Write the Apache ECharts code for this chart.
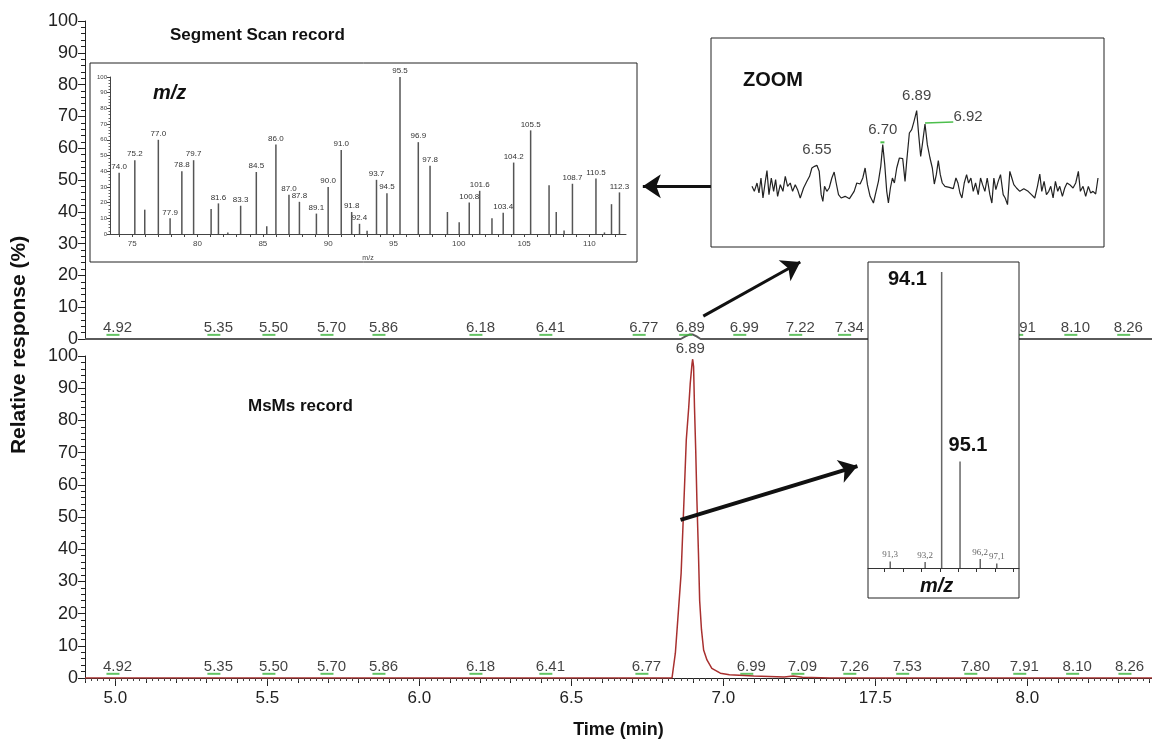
<!DOCTYPE html>
<html>
<head>
<meta charset="utf-8">
<script src="https://cdn.jsdelivr.net/npm/echarts@6/dist/echarts.min.js"></script>
<style>
html,body{margin:0;padding:0;background:#fff}
#main{width:1152px;height:744px}
</style>
</head>
<body>
<div id="main"></div>
<script>
// ---- data ----
// main time axis
var xTickValues = [5.0, 5.5, 6.0, 6.5, 7.0, 7.5, 8.0];
var xTickLabels = ['5.0', '5.5', '6.0', '6.5', '7.0', '17.5', '8.0'];

// segment scan trace (top panel), almost flat
var topTime = [4.9, 6.86, 6.875, 6.888, 6.9, 6.912, 6.925, 8.41];
var topResp = [0, 0, 0.8, 1.4, 1.4, 0.8, 0, 0];
var topPeakText = ['4.92', '5.35', '5.50', '5.70', '5.86', '6.18', '6.41', '6.77', '6.89', '6.99', '7.22', '7.34', '7.91', '8.10', '8.26'];
var topPeakAt = [5.007, 5.339, 5.52, 5.711, 5.882, 6.201, 6.431, 6.738, 6.891, 7.069, 7.253, 7.414, 7.98, 8.158, 8.332];

// MsMs trace (bottom panel)
var msTime = [4.9, 6.8, 6.831, 6.842, 6.853, 6.861, 6.867, 6.873, 6.878, 6.886, 6.891, 6.897, 6.899, 6.902, 6.905, 6.909, 6.913, 6.918, 6.922, 6.928, 6.935, 6.946, 6.962, 6.99, 7.02, 7.1, 7.2, 7.23, 7.26, 7.35, 8.41];
var msResp = [0, 0, 0, 7.7, 22, 32.5, 47, 61.5, 74, 84, 91.5, 97.7, 99, 96.7, 84, 70.8, 55, 38.8, 24, 15, 8.7, 5.6, 3, 1.5, 1, 0.6, 0.3, 0.6, 0.2, 0, 0];
var botPeakText = ['4.92', '5.35', '5.50', '5.70', '5.86', '6.18', '6.41', '6.77', '6.99', '7.09', '7.26', '7.53', '7.80', '7.91', '8.10', '8.26'];
var botPeakAt = [5.007, 5.339, 5.52, 5.711, 5.882, 6.201, 6.431, 6.747, 7.092, 7.26, 7.431, 7.605, 7.829, 7.99, 8.164, 8.336];
var apexTime = 6.891, apexResp = 99, apexText = '6.89';

// segment scan mass spectrum (inset)
var scanMz = [74.0, 75.2, 75.96, 77.0, 77.9, 78.8, 79.7, 81.04, 81.6, 82.32, 83.3, 84.5, 85.3, 86.0, 87.0, 87.8, 89.1, 90.0, 91.0, 91.8, 92.4, 92.98, 93.7, 94.5, 95.5, 96.9, 97.8, 99.13, 100.03, 100.8, 101.6, 102.54, 103.4, 104.2, 105.5, 106.91, 107.46, 108.06, 108.7, 110.5, 111.15, 111.69, 112.3];
var scanInt = [39, 47, 15.5, 60, 10, 40, 47, 16, 19.5, 1, 18, 39.5, 5, 57, 25, 20.5, 13, 30, 53.5, 14, 6.5, 2, 34.5, 26, 100, 58.5, 43.5, 14, 7.5, 20, 27.5, 10, 13.5, 45.5, 66, 31, 14, 2.3, 32, 35.3, 1, 19, 26.5];
var scanText = ['74.0', '75.2', '', '77.0', '77.9', '78.8', '79.7', '', '81.6', '', '83.3', '84.5', '', '86.0', '87.0', '87.8', '89.1', '90.0', '91.0', '91.8', '92.4', '', '93.7', '94.5', '95.5', '96.9', '97.8', '', '', '100.8', '101.6', '', '103.4', '104.2', '105.5', '', '', '', '108.7', '110.5', '', '', '112.3'];
var scanTicks = [75, 80, 85, 90, 95, 100, 105, 110];

// zoomed segment scan trace
var zoomScan = [125, 132, 140, 146, 152, 158, 165, 170, 176, 183, 190, 196, 202, 210, 218, 225, 232, 240, 247, 255, 262, 270, 280, 290, 298, 305, 313, 320, 327, 333, 338, 343, 350, 357, 365, 372, 378, 385, 393, 405, 418, 432, 440, 450, 458, 465, 472, 480, 490, 498, 505, 512, 518, 524, 530, 535, 541, 547, 553, 560, 568, 578, 585, 590, 598, 605, 612, 620, 626, 632, 637, 645, 652, 660, 667, 673, 679, 685, 691, 697, 705, 718, 730, 738, 744, 750, 756, 763, 770, 776, 783, 790, 797, 805, 812, 818, 825, 832, 840, 846, 852, 858, 865, 872, 880, 886, 893, 900, 906, 912, 920, 930, 942, 955, 965, 975, 983, 990, 996, 1003, 1010, 1017, 1023, 1030, 1037, 1044, 1050, 1058, 1065, 1072, 1080, 1090, 1098, 1106, 1112, 1120, 1128, 1136, 1143, 1150, 1158, 1165];
var zoomSignal = [65, 50, 75, 45, 90, 30, 80, 112, 40, 90, 50, 85, 35, 70, 50, 95, 65, 75, 50, 70, 55, 30, 60, 80, 95, 120, 125, 128, 110, 40, 20, 65, 50, 60, 90, 108, 75, 40, 30, 35, 28, 50, 75, 72, 90, 120, 70, 35, 15, 50, 80, 125, 190, 130, 50, 15, 60, 90, 75, 120, 150, 148, 80, 140, 225, 235, 260, 292, 220, 155, 190, 252, 190, 150, 120, 72, 100, 142, 100, 75, 65, 62, 58, 90, 75, 45, 30, 75, 100, 75, 90, 50, 75, 40, 90, 70, 50, 90, 40, 15, 90, 55, 80, 100, 40, 30, 10, 110, 90, 70, 60, 50, 58, 50, 40, 30, 65, 102, 50, 80, 40, 50, 65, 30, 80, 50, 65, 35, 60, 75, 70, 60, 75, 110, 50, 65, 35, 65, 45, 50, 42, 90];
var zoomPeakScan = [320, 518, 620, 645];
var zoomPeakSignal = [128, 190, 292, 252];
var zoomPeakText = ['6.55', '6.70', '6.89', '6.92'];

// MsMs product ion spectrum (inset)
var msmsMz = [91.3, 93.2, 94.1, 95.1, 96.2, 97.1];
var msmsInt = [2.2, 2.0, 100, 36, 3, 1.5];
var msmsText = ['91,3', '93,2', '94.1', '95.1', '96,2', '97,1'];
var msmsTicks = [90, 91, 92, 93, 94, 95, 96, 97, 98];

// ---- chart ----
var FONT = '"Liberation Sans", Arial, sans-serif';
var myChart = echarts.init(document.getElementById('main'));

function zip(a, b) {
    return a.map(function (v, i) { return [v, b[i]]; });
}
var midTicks = [], smallTicks = [];
for (var i = 0; i <= 35; i++) midTicks.push(+(4.9 + i * 0.1).toFixed(2));
for (var j = 0; j <= 175; j++) smallTicks.push(+(4.9 + j * 0.02).toFixed(2));

var respAxis = {
    type: 'value', min: 0, max: 100, interval: 10,
    axisLine: {show: true, lineStyle: {color: '#222', width: 1}},
    axisTick: {show: true, length: 7, lineStyle: {color: '#222'}},
    minorTick: {show: true, splitNumber: 5, length: 4, lineStyle: {color: '#222'}},
    axisLabel: {fontSize: 18, color: '#222', fontFamily: FONT, margin: 7},
    splitLine: {show: false}
};
function peakLabels(xi, yi, times, texts) {
    return {
        type: 'scatter', xAxisIndex: xi, yAxisIndex: yi,
        symbolSize: 1, itemStyle: {color: 'rgba(0,0,0,0)'},
        data: times.map(function (t, k) { return {value: [t, 0], name: texts[k]}; }),
        label: {show: true, position: 'top', distance: 3, formatter: '{b}',
            fontSize: 15, color: '#111', fontFamily: FONT},
        silent: true, z: 3
    };
}
function greenMarks(xi, yi, times) {
    return {
        type: 'scatter', xAxisIndex: xi, yAxisIndex: yi,
        symbol: 'rect', symbolSize: [13, 2], itemStyle: {color: '#3cb43c'},
        data: times.map(function (t) { return [t - 0.015, 1.3]; }),
        silent: true, z: 3
    };
}
var arrowLine = function (width, pairs) {
    return {
        silent: true, symbol: ['none', 'arrow'], symbolSize: 18,
        lineStyle: {color: '#111', width: width, type: 'solid'},
        label: {show: false},
        data: pairs.map(function (p) { return [{coord: p[0]}, {coord: p[1]}]; })
    };
};

var option = {
    animation: false,
    backgroundColor: '#fff',
    title: [
        {text: 'Segment Scan record', left: 170, top: 27, padding: 0,
            textStyle: {fontSize: 17, fontWeight: 'bold', color: '#111', fontFamily: FONT}},
        {text: 'MsMs record', left: 248, top: 398, padding: 0,
            textStyle: {fontSize: 17, fontWeight: 'bold', color: '#111', fontFamily: FONT}}
    ],
    grid: [
        {left: 85, top: 21, width: 1067, height: 318},
        {left: 85, top: 356, width: 1067, height: 322},
        {left: 110, top: 77, width: 516, height: 157},
        {left: 752, top: 108, width: 346, height: 100},
        {left: 868, top: 272, width: 151, height: 296}
    ],
    xAxis: [
        {gridIndex: 0, type: 'value', min: 4.9, max: 8.41, show: false},
        {gridIndex: 1, type: 'value', min: 4.9, max: 8.41, position: 'bottom', offset: 0,
            axisLine: {show: true, lineStyle: {color: '#222', width: 1}},
            axisTick: {show: true, length: 8, customValues: xTickValues, lineStyle: {color: '#222'}},
            axisLabel: {customValues: xTickValues, fontSize: 17, color: '#222', fontFamily: FONT, margin: 12,
                formatter: function (v) {
                    for (var k = 0; k < xTickValues.length; k++) {
                        if (Math.abs(xTickValues[k] - v) < 1e-6) return xTickLabels[k];
                    }
                    return '';
                }},
            splitLine: {show: false},
            name: 'Time (min)', nameLocation: 'middle', nameGap: 43,
            nameTextStyle: {fontSize: 18, fontWeight: 'bold', color: '#111', fontFamily: FONT}},
        {gridIndex: 1, type: 'value', min: 4.9, max: 8.41, position: 'bottom', offset: 0,
            axisLine: {show: false}, axisLabel: {show: false}, splitLine: {show: false},
            axisTick: {show: true, length: 5, customValues: midTicks, lineStyle: {color: '#222'}}},
        {gridIndex: 1, type: 'value', min: 4.9, max: 8.41, position: 'bottom', offset: 0,
            axisLine: {show: false}, axisLabel: {show: false}, splitLine: {show: false},
            axisTick: {show: true, length: 3, customValues: smallTicks, lineStyle: {color: '#444'}}},
        {gridIndex: 2, type: 'value', min: 73.3, max: 112.8, z: 60,
            axisLine: {show: true, lineStyle: {color: '#444', width: 1}},
            axisTick: {show: true, length: 3, customValues: [74, 75, 76, 77, 78, 79, 80, 81, 82, 83, 84, 85, 86, 87, 88, 89, 90, 91, 92, 93, 94, 95, 96, 97, 98, 99, 100, 101, 102, 103, 104, 105, 106, 107, 108, 109, 110, 111, 112], lineStyle: {color: '#444'}},
            axisLabel: {customValues: scanTicks, fontSize: 8, color: '#444', fontFamily: FONT, margin: 6},
            splitLine: {show: false},
            name: 'm/z', nameLocation: 'middle', nameGap: 21,
            nameTextStyle: {fontSize: 7, color: '#444', fontFamily: FONT}},
        {gridIndex: 3, type: 'value', min: 125, max: 1165, show: false},
        {gridIndex: 4, type: 'value', min: 90.09, max: 98.31, z: 60,
            axisLine: {show: true, lineStyle: {color: '#333', width: 1}},
            axisTick: {show: true, length: 4, customValues: msmsTicks, lineStyle: {color: '#333'}},
            axisLabel: {show: false}, splitLine: {show: false}}
    ],
    yAxis: [
        Object.assign({gridIndex: 0}, respAxis),
        Object.assign({gridIndex: 1}, respAxis),
        {gridIndex: 2, type: 'value', min: 0, max: 100, interval: 10, z: 60,
            axisLine: {show: true, lineStyle: {color: '#444', width: 1}},
            axisTick: {show: true, length: 3, lineStyle: {color: '#444'}},
            minorTick: {show: true, splitNumber: 5, length: 1.5, lineStyle: {color: '#666'}},
            axisLabel: {fontSize: 6, color: '#444', fontFamily: FONT, margin: 3},
            splitLine: {show: false}},
        {gridIndex: 3, type: 'value', min: 0, max: 300, show: false},
        {gridIndex: 4, type: 'value', min: 0, max: 100, show: false}
    ],
    series: [
        {
            name: 'Segment Scan', type: 'line', xAxisIndex: 0, yAxisIndex: 0,
            data: zip(topTime, topResp), symbol: 'none', silent: true,
            lineStyle: {color: '#5a5a5a', width: 2},
            markLine: arrowLine(3, [[[6.964, 48], [6.735, 48]], [[6.934, 7.2], [7.253, 24.2]]])
        },
        peakLabels(0, 0, topPeakAt, topPeakText),
        greenMarks(0, 0, topPeakAt),
        {
            name: 'MsMs', type: 'line', xAxisIndex: 1, yAxisIndex: 1,
            data: zip(msTime, msResp), symbol: 'none', silent: true,
            lineStyle: {color: '#a8302f', width: 1.5}, z: 4,
            markLine: arrowLine(4, [[[6.859, 49.1], [7.441, 65.8]]])
        },
        peakLabels(1, 1, botPeakAt, botPeakText),
        greenMarks(1, 1, botPeakAt),
        {
            type: 'scatter', xAxisIndex: 1, yAxisIndex: 1,
            symbolSize: 1, itemStyle: {color: 'rgba(0,0,0,0)'},
            data: [{value: [apexTime, apexResp], name: apexText}],
            label: {show: true, position: 'top', distance: 2, formatter: '{b}',
                fontSize: 15, color: '#111', fontFamily: FONT},
            silent: true
        },
        {
            name: 'Scan spectrum', type: 'bar', xAxisIndex: 4, yAxisIndex: 2,
            data: zip(scanMz, scanInt), barWidth: 1.5, silent: true, z: 60,
            itemStyle: {color: '#555'},
            label: {show: true, position: 'top', distance: 2, fontSize: 8, color: '#333', fontFamily: FONT,
                formatter: function (p) { return scanText[p.dataIndex]; }}
        },
        {
            name: 'Zoom', type: 'line', xAxisIndex: 5, yAxisIndex: 3,
            data: zip(zoomScan, zoomSignal), symbol: 'none', silent: true, z: 60,
            lineStyle: {color: '#222', width: 1.2}
        },
        {
            type: 'line', xAxisIndex: 5, yAxisIndex: 3, symbol: 'none', silent: true, z: 61,
            data: [[645, 255], [730, 258]], lineStyle: {color: '#4cbf4c', width: 1.5}
        },
        {
            type: 'line', xAxisIndex: 5, yAxisIndex: 3, symbol: 'none', silent: true, z: 61,
            data: [[511, 197], [523, 197]], lineStyle: {color: '#4cbf4c', width: 2}
        },
        {
            type: 'scatter', xAxisIndex: 5, yAxisIndex: 3, silent: true, z: 62,
            symbolSize: 1, itemStyle: {color: 'rgba(0,0,0,0)'},
            data: zoomPeakScan.map(function (s, k) {
                var item = {value: [s, zoomPeakSignal[k]], name: zoomPeakText[k]};
                // the last label sits to the right of its peak, at the end of the green line
                if (k === zoomPeakScan.length - 1) {
                    item.label = {position: 'right', distance: 28, offset: [0, -7]};
                }
                return item;
            }),
            label: {show: true, fontSize: 15, color: '#111', fontFamily: FONT, formatter: '{b}',
                position: 'top', distance: 7}
        },
        {
            name: 'MsMs spectrum', type: 'bar', xAxisIndex: 6, yAxisIndex: 4,
            barWidth: 1.5, silent: true, z: 60,
            itemStyle: {color: '#666'},
            data: msmsMz.map(function (m, k) {
                var big = msmsInt[k] > 30;
                var lab = big
                    ? {show: true, fontSize: 20, fontWeight: 'bold', color: '#111', fontFamily: FONT}
                    : {show: true, fontSize: 9, color: '#666', fontFamily: '"Liberation Serif", serif',
                        position: 'top', distance: 2};
                if (big && k === 2) lab.position = [-53, -3];
                if (big && k === 3) { lab.position = 'top'; lab.distance = 6; lab.offset = [8, 0]; }
                lab.formatter = msmsText[k];
                return {value: [m, msmsInt[k]], label: lab};
            })
        }
    ],
    graphic: [
        {type: 'rect', z: 50, shape: {x: 90, y: 63, width: 547, height: 199},
            style: {fill: '#fff', stroke: '#222', lineWidth: 1}},
        {type: 'rect', z: 50, shape: {x: 711, y: 38, width: 393, height: 209},
            style: {fill: '#fff', stroke: '#222', lineWidth: 1}},
        {type: 'rect', z: 50, shape: {x: 868, y: 262, width: 151, height: 336},
            style: {fill: '#fff', stroke: '#222', lineWidth: 1}},
        {type: 'text', z: 70, x: 19, y: 345, rotation: Math.PI / 2,
            style: {text: 'Relative response (%)', font: 'bold 21px "Liberation Sans", Arial, sans-serif',
                fill: '#111', textAlign: 'center', textVerticalAlign: 'middle'}},
        {type: 'text', z: 70, x: 743, y: 70,
            style: {text: 'ZOOM', font: 'bold 20px "Liberation Sans", Arial, sans-serif', fill: '#111'}},
        {type: 'text', z: 70, x: 153, y: 83,
            style: {text: 'm/z', font: 'italic bold 20px "Liberation Sans", Arial, sans-serif', fill: '#111'}},
        {type: 'text', z: 70, x: 920, y: 576,
            style: {text: 'm/z', font: 'italic bold 20px "Liberation Sans", Arial, sans-serif', fill: '#111'}}
    ]
};
myChart.setOption(option);
</script>
</body>
</html>
